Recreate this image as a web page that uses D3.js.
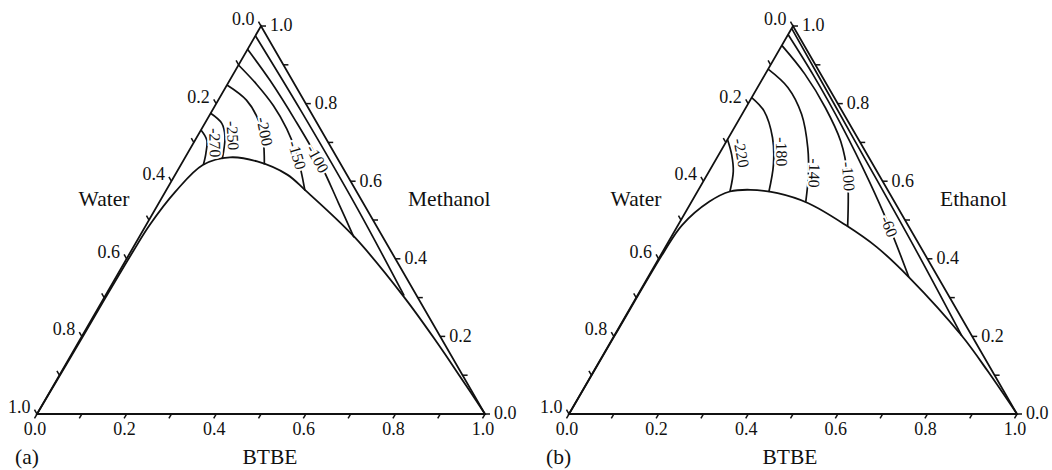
<!DOCTYPE html>
<html>
<head>
<meta charset="utf-8">
<script src="https://cdn.jsdelivr.net/npm/d3@7"></script>
<style>
  body { margin: 0; background: #fff; }
  svg { display: block; font-family: "Liberation Serif", "Times New Roman", serif; }
</style>
</head>
<body>
<div id="chart"></div>
<script>
// every composition point is [BTBE, alcohol]; water = 1 - BTBE - alcohol
const tickValues = [0, 0.1, 0.2, 0.3, 0.4, 0.5, 0.6, 0.7, 0.8, 0.9, 1.0];
const tickLabels = ["0.0", "0.2", "0.4", "0.6", "0.8", "1.0"];

// (a) BTBE + methanol + water
const methanolBinodal = [
  [0, 0], [0.002, 0.15], [0.003, 0.30], [0.005, 0.42], [0.008, 0.487],
  [0.0225, 0.573], [0.049, 0.642], [0.10, 0.6615], [0.166, 0.651],
  [0.25, 0.617], [0.31, 0.577], [0.482, 0.455], [0.668, 0.302],
  [0.80, 0.185], [0.90, 0.093], [1, 0]
];
const methanolLevels = [null, -100, -150, -200, -250, -270];
const methanolContours = [
  [[0, 0.975], [0.2, 0.78], [0.45, 0.53], [0.667, 0.305]],
  [[0, 0.94], [0.09, 0.86], [0.2, 0.755], [0.31, 0.645], [0.4, 0.545], [0.48, 0.455]],
  [[0, 0.8995], [0.065, 0.85], [0.13, 0.795], [0.19, 0.735], [0.245, 0.67], [0.31, 0.576]],
  [[0, 0.848], [0.063, 0.809], [0.115, 0.758], [0.152, 0.706], [0.186, 0.643]],
  [[0, 0.775], [0.038, 0.749], [0.062, 0.715], [0.085, 0.657]],
  [[0, 0.732], [0.026, 0.706], [0.041, 0.672], [0.05, 0.643]]
];

// (b) BTBE + ethanol + water
const ethanolBinodal = [
  [0, 0], [0.001, 0.2], [0.003, 0.4178], [0.009, 0.487], [0.0397, 0.5476],
  [0.0725, 0.5735], [0.116, 0.5779], [0.181, 0.5692], [0.2626, 0.5433],
  [0.374, 0.487], [0.471, 0.4308], [0.582, 0.353], [0.776, 0.2016],
  [0.88, 0.11], [1, 0]
];
const ethanolLevels = [null, -60, -100, -140, -180, -220];
const ethanolContours = [
  [[0, 0.994], [0.3, 0.69], [0.55, 0.436], [0.776, 0.2016]],
  [[0, 0.978], [0.11, 0.872], [0.24, 0.74], [0.37, 0.6], [0.47, 0.487], [0.582, 0.353]],
  [[0, 0.95], [0.0885, 0.876], [0.177, 0.79], [0.255, 0.703], [0.313, 0.617], [0.38, 0.484]],
  [[0, 0.889], [0.0677, 0.8417], [0.133, 0.7725], [0.19, 0.686], [0.226, 0.6168], [0.255, 0.547]],
  [[0, 0.8157], [0.0447, 0.7811], [0.0983, 0.712], [0.135, 0.6427], [0.16, 0.572]],
  [[0, 0.7076], [0.0287, 0.6687], [0.054, 0.6254], [0.0725, 0.5735]]
];

const width = 1052, height = 470;
const side = 448;
const ink = "#111";

const svg = d3.select("#chart").append("svg")
  .attr("width", width)
  .attr("height", height);

function drawPanel(cfg) {
  const g = svg.append("g");
  const [x0, y0] = cfg.origin;
  const tall = side * Math.sqrt(3) / 2;
  const sx = d3.scaleLinear().domain([0, 1]).range([0, side]);
  const sy = d3.scaleLinear().domain([0, 1]).range([y0, y0 - tall]);
  const proj = ([b, a]) => [x0 + sx(b) + sx(a) / 2, sy(a)];

  const line = d3.line()
    .x((d) => proj(d)[0])
    .y((d) => proj(d)[1])
    .curve(d3.curveCatmullRom.alpha(0.5));

  // triangle frame
  g.append("path")
    .attr("d", d3.line()([proj([0, 0]), proj([1, 0]), proj([0, 1])]) + "Z")
    .attr("fill", "none")
    .attr("stroke", ink)
    .attr("stroke-width", 1.8);

  // ticks: bottom (BTBE), left (water), right (alcohol)
  const tl = 5;
  const axes = [
    { at: (v) => proj([v, 0]), dir: [-0.5, 0.866] },
    { at: (v) => proj([0, 1 - v]), dir: [-0.5, -0.866] },
    { at: (v) => proj([1 - v, v]), dir: [1, 0] }
  ];
  axes.forEach((ax) => {
    g.selectAll(null)
      .data(tickValues)
      .enter()
      .append("line")
      .attr("x1", (v) => ax.at(v)[0])
      .attr("y1", (v) => ax.at(v)[1])
      .attr("x2", (v) => ax.at(v)[0] + ax.dir[0] * tl)
      .attr("y2", (v) => ax.at(v)[1] + ax.dir[1] * tl)
      .attr("stroke", ink)
      .attr("stroke-width", 1.5);
  });

  const lab = g.append("g").attr("font-size", 18).attr("fill", ink);
  // bottom labels
  lab.selectAll(null).data(tickLabels).enter().append("text")
    .attr("x", (t) => axes[0].at(+t)[0] - 2)
    .attr("y", y0 + 15)
    .attr("dy", "0.35em")
    .attr("text-anchor", "middle")
    .text((t) => t);
  // left labels
  lab.selectAll(null).data(tickLabels).enter().append("text")
    .attr("x", (t) => axes[1].at(+t)[0] - 2.5 - 4)
    .attr("y", (t) => axes[1].at(+t)[1] - 4.3 - 3)
    .attr("dy", "0.35em")
    .attr("text-anchor", "end")
    .text((t) => t);
  // right labels
  lab.selectAll(null).data(tickLabels).enter().append("text")
    .attr("x", (t) => axes[2].at(+t)[0] + tl + 4)
    .attr("y", (t) => axes[2].at(+t)[1] - 1)
    .attr("dy", "0.35em")
    .attr("text-anchor", "start")
    .text((t) => t);

  // binodal curve
  g.append("path")
    .attr("d", line(cfg.binodal))
    .attr("fill", "none")
    .attr("stroke", ink)
    .attr("stroke-width", 1.8);

  // isolines
  cfg.contours.forEach((pts, i) => {
    const p = g.append("path")
      .attr("d", line(pts))
      .attr("fill", "none")
      .attr("stroke", ink)
      .attr("stroke-width", 1.7);
    const level = cfg.levels[i];
    if (level === null) return;
    const [t, off] = cfg.labelAt[i];
    const node = p.node();
    const len = node.getTotalLength();
    const a = node.getPointAtLength(len * t - 1);
    const b = node.getPointAtLength(len * t + 1);
    const dx = b.x - a.x, dy = b.y - a.y;
    const n = Math.hypot(dx, dy);
    const ux = dx / n, uy = dy / n;
    const cx = (a.x + b.x) / 2 + uy * off;
    const cy = (a.y + b.y) / 2 - ux * off;
    const ang = Math.atan2(uy, ux) * 180 / Math.PI;
    g.append("text")
      .attr("transform", `translate(${cx},${cy}) rotate(${ang})`)
      .attr("text-anchor", "middle")
      .attr("dy", "0.35em")
      .attr("font-size", 16)
      .attr("fill", ink)
      .attr("stroke", "#fff")
      .attr("stroke-width", 4)
      .attr("paint-order", "stroke")
      .text(level);
  });

  // axis titles
  const ttl = g.append("g").attr("font-size", 21.5).attr("fill", ink);
  ttl.append("text").attr("x", x0 + 67).attr("y", 198).attr("dy", "0.35em")
    .attr("text-anchor", "middle").text("Water");
  ttl.append("text").attr("x", x0 + 371).attr("y", 198).attr("dy", "0.35em")
    .attr("text-anchor", "start").text(cfg.alcohol);
  ttl.append("text").attr("x", cfg.btbeX).attr("y", 456).attr("dy", "0.35em")
    .attr("text-anchor", "middle").text("BTBE");
  ttl.append("text").attr("x", cfg.tagX).attr("y", 456).attr("dy", "0.35em")
    .attr("text-anchor", "start").text(cfg.tag);
}

drawPanel({
  origin: [37, 414],
  alcohol: "Methanol",
  tag: "(a)",
  tagX: 15,
  btbeX: 270,
  binodal: methanolBinodal,
  contours: methanolContours,
  levels: methanolLevels,
  labelAt: [null, [0.6, 0], [0.75, 0], [0.65, 3], [0.55, 8], [0.4, 8]]
});

drawPanel({
  origin: [569, 414],
  alcohol: "Ethanol",
  tag: "(b)",
  tagX: 546,
  btbeX: 790,
  binodal: ethanolBinodal,
  contours: ethanolContours,
  levels: ethanolLevels,
  labelAt: [null, [0.8, 0], [0.75, 1], [0.8, 6], [0.6, 8], [0.3, 10]]
});
</script>
</body>
</html>
